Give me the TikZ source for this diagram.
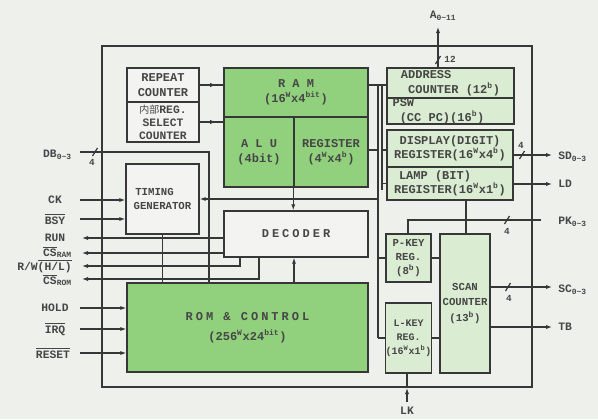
\documentclass[tikz,border=0pt]{standalone}
\usepackage{fontspec}
\setmonofont{Liberation Mono}
\newfontfamily\cjk{Noto Sans CJK JP}
\newfontfamily\wtt[LetterSpace=25.0]{Liberation Mono}
\usetikzlibrary{arrows.meta,decorations.markings}
\definecolor{bgc}{RGB}{238,240,236}
\definecolor{linec}{RGB}{55,55,55}
\definecolor{txtc}{RGB}{70,70,70}
\definecolor{gstrong}{RGB}{145,208,125}
\definecolor{glight}{RGB}{218,236,210}
\definecolor{wbox}{RGB}{243,244,242}
\newcommand\bx[7]{\node[#6, minimum width={(#4-#2)*0.75pt}, minimum height={(#5-#3)*0.75pt}] (#1) at ({(#2+#4)/2},{(#3+#5)/2}) {#7};}
\newcommand\ovl[1]{$\overline{\hbox{#1}}$}
\newcommand\sps[1]{\textsuperscript{#1}}
\newcommand\sbs[1]{\textsubscript{#1}}
\newcommand\tick[1]{\draw[ln] (#1) ++(-2.5,4) -- ++(5,-8);}
\begin{document}
\begin{tikzpicture}[x=0.75pt,y=-0.75pt,
  ln/.style={draw=linec,line width=0.9pt},
  blk/.style={draw=linec,line width=1.1pt,inner sep=0pt,align=center,text=txtc,font=\ttfamily\bfseries\fontsize{9}{11}\selectfont},
  hot/.style={blk,fill=gstrong},
  lite/.style={blk,fill=glight},
  plain/.style={blk,fill=wbox},
  framebox/.style={draw=linec,line width=1.1pt,inner sep=0pt},
  lbl/.style={text=txtc,font=\ttfamily\bfseries\fontsize{8.5}{10}\selectfont,inner sep=0pt},
  small/.style={text=txtc,font=\ttfamily\bfseries\fontsize{7}{8}\selectfont,inner sep=0pt},
  toarr/.style={-{Latex[length=4.5pt,width=3.2pt]}},
  midarr/.style={postaction={decorate},decoration={markings,mark=at position #1 with {\arrow{Latex[length=4.5pt,width=3.2pt]}}}}
]
\fill[bgc] (0,0) rectangle (598,419);
\useasboundingbox (0,0) rectangle (598,419);

% frame
\bx{frame}{102}{46}{532}{387}{framebox}{}

% blocks
\bx{rep}{127}{68}{199}{102}{plain}{REPEAT\\COUNTER}
\bx{sel}{127}{102}{199}{142}{plain,font=\ttfamily\bfseries\fontsize{8.5}{9.8}\selectfont}{{\cjk\mdseries\fontsize{7.5}{9.8}\selectfont 内部}REG.\\SELECT\\COUNTER}
\bx{ram}{224}{68}{368}{117}{hot}{R A M\\(16\sps{W}x4\sps{bit})}
\bx{alu}{224}{117}{294}{187}{hot}{A L U\\(4bit)}
\bx{reg}{294}{117}{368}{187}{hot}{REGISTER\\(4\sps{W}x4\sps{b})}
\bx{adr}{387}{68}{514}{98}{lite,align=left}{ADDRESS\\\hspace*{0.6em}COUNTER (12\sps{b})}
\bx{psw}{387}{98}{514}{124}{lite,align=left}{PSW\\\hspace*{0.6em}(CC PC)(16\sps{b})\hspace*{2em}}
\bx{disp}{387}{130}{513}{167}{lite}{DISPLAY(DIGIT)\\REGISTER(16\sps{W}x4\sps{b})}
\bx{lamp}{387}{167}{513}{200}{lite}{LAMP (BIT)\hspace*{2.5em}\\REGISTER(16\sps{W}x1\sps{b})}
\bx{tim}{126}{164}{199}{234}{plain,font=\ttfamily\bfseries\fontsize{8}{11}\selectfont}{TIMING\hspace*{1.5em}\\GENERATOR}
\bx{dec}{224}{211}{368}{257}{plain}{{\wtt DECODER}}
\bx{rom}{127}{283}{368}{372}{hot,font=\ttfamily\bfseries\fontsize{9}{15}\selectfont}{{\wtt ROM \& CONTROL}\\(256\sps{W}x24\sps{bit})}
\bx{pk}{386}{234}{431}{282}{lite,font=\ttfamily\bfseries\fontsize{8}{10.5}\selectfont}{P-KEY\\REG.\hspace*{0.6em}\\(8\sps{b})}
\bx{lk}{386}{303}{431}{373}{lite,font=\ttfamily\bfseries\fontsize{7.5}{10.5}\selectfont}{L-KEY\\REG.\hspace*{1.2em}\\(16\sps{W}x1\sps{b})}
\bx{scan}{440}{234}{490}{373}{lite,font=\ttfamily\bfseries\fontsize{8}{11.5}\selectfont}{SCAN\\COUNTER\\(13\sps{b})}

% internal buses
\coordinate (bA1) at (378,85);
\coordinate (bA2) at (378,338);
\coordinate (bB1) at (382,85);
\coordinate (bB2) at (382,190);
\coordinate (yd) at (0,150);
\draw[ln] (bA1) -- (bA2);
\draw[ln] (bB1) -- (bB2);
\draw[ln] (ram.east |- bA1) -- (adr.west |- bA1);
\draw[ln] (reg.east |- yd) -- (bA1 |- yd);
\draw[ln] (bB1 |- yd) -- (disp.west |- yd);
\draw[ln] (bB1 |- lamp.west) -- (lamp.west);
\draw[ln,toarr] (bA1 |- tim.east) -- (tim.east);
\draw[ln] (bA1 |- pk.west) -- (pk.west);
\draw[ln] (bA2) -- (lk.west |- bA2);
\draw[ln] (pk.east) -- (scan.west |- pk.east);
\draw[ln] (lk.east |- bA2) -- (scan.west |- bA2);
\coordinate (ls) at (466,200);
\draw[ln] (lamp.south -| ls) -- (scan.north -| ls);

% counters to RAM
\draw[ln,midarr=0.7] (rep.east) -- (rep.east -| ram.west);
\draw[ln,midarr=0.7] (sel.east) -- (sel.east -| ram.west);

% address bus
\coordinate (atop) at (438,27);
\draw[ln,toarr] (adr.north -| atop) -- (atop);
\tick{438,60}
\node[small] (n12) at (450,59) {12};
\node[lbl] (alab) at (443,16) {A\sbs{0\textasciitilde11}};

% data bus
\coordinate (db0) at (80,152);
\coordinate (db1) at (209,152);
\draw[ln] (db0) -- (db1) -- (db1 |- rom.north);
\tick{95,152}
\node[small] (n4a) at (92,162) {4};
\node[lbl,anchor=east] (dblab) at (72,155) {DB\sbs{0\textasciitilde3}};

% timing inputs
\coordinate (ck) at (80,200);
\coordinate (bsy) at (80,219);
\draw[ln,toarr] (ck) -- (ck -| tim.west);
\draw[ln,toarr] (bsy) -- (bsy -| tim.west);
\draw[ln] (tim.south) -- (tim.south |- rom.north);
\node[lbl] (cklab) at (55,200) {CK};
\node[lbl] (bsylab) at (55,219) {\ovl{BSY}};

% decoder outputs
\coordinate (run) at (82,238);
\coordinate (csram) at (82,253);
\coordinate (rw) at (82,266);
\coordinate (csrom) at (82,279);
\coordinate (rwx) at (240,0);
\coordinate (csx) at (259,0);
\coordinate (rd) at (294,0);
\draw[ln,toarr] (run -| dec.west) -- (run);
\draw[ln,toarr] (csram -| dec.west) -- (csram);
\draw[ln,toarr] (dec.south -| rwx) -- (rwx |- rw) -- (rw);
\draw[ln,toarr] (dec.south -| csx) -- (csx |- csrom) -- (csrom);
\draw[ln,toarr] (rom.north -| rd) -- (dec.south -| rd);
\draw[ln,toarr] (reg.south west) -- (reg.south west |- dec.north);
\node[lbl] (runlab) at (55,238) {RUN};
\node[lbl,anchor=east] (csramlab) at (72,252) {\ovl{CS}\sbs{RAM}};
\node[lbl,anchor=east] (rwlab) at (72,266) {R/W\ovl{(H/L)}};
\node[lbl,anchor=east] (csromlab) at (72,280) {\ovl{CS}\sbs{ROM}};

% ROM inputs
\coordinate (hold) at (80,308);
\coordinate (irq) at (80,329);
\coordinate (rst) at (80,353);
\draw[ln,toarr] (hold) -- (hold -| rom.west);
\draw[ln,toarr] (irq) -- (irq -| rom.west);
\draw[ln,toarr] (rst) -- (rst -| rom.west);
\node[lbl] (holdlab) at (55,308) {HOLD};
\node[lbl] (irqlab) at (55,329) {\ovl{IRQ}};
\node[lbl] (rstlab) at (53,353) {\ovl{RESET}};

% right side outputs
\coordinate (sd) at (552,155);
\coordinate (ld) at (552,184);
\coordinate (sc) at (552,287);
\coordinate (tb) at (552,327);
\draw[ln,toarr] (disp.east |- sd) -- (sd);
\tick{522,155}
\node[small] (n4b) at (521,145) {4};
\draw[ln,toarr] (lamp.east |- ld) -- (ld);
\draw[ln,toarr] (scan.east |- sc) -- (sc);
\tick{508,287}
\node[small] (n4c) at (509,298) {4};
\draw[ln,toarr] (scan.east |- tb) -- (tb);
\coordinate (pkr) at (541,220);
\coordinate (pkx) at (408,220);
\draw[ln] (pkr) -- (pkx) -- (pkx |- pk.north);
\tick{507,220}
\node[small] (n4d) at (507,231) {4};
\node[lbl,anchor=west] (sdlab) at (558,157) {SD\sbs{0\textasciitilde3}};
\node[lbl,anchor=west] (ldlab) at (558,184) {LD};
\node[lbl,anchor=west] (pklab) at (558,222) {PK\sbs{0\textasciitilde3}};
\node[lbl,anchor=west] (sclab) at (558,290) {SC\sbs{0\textasciitilde3}};
\node[lbl,anchor=west] (tblab) at (558,327) {TB};

% LK input
\coordinate (lkb) at (407,402);
\coordinate (lkm) at (407,388);
\draw[ln,toarr] (lkb) -- (lkm);
\draw[ln] (lkm) -- (lkb |- lk.south);
\node[lbl] (lklab) at (407,411) {LK};
\end{tikzpicture}
\end{document}
